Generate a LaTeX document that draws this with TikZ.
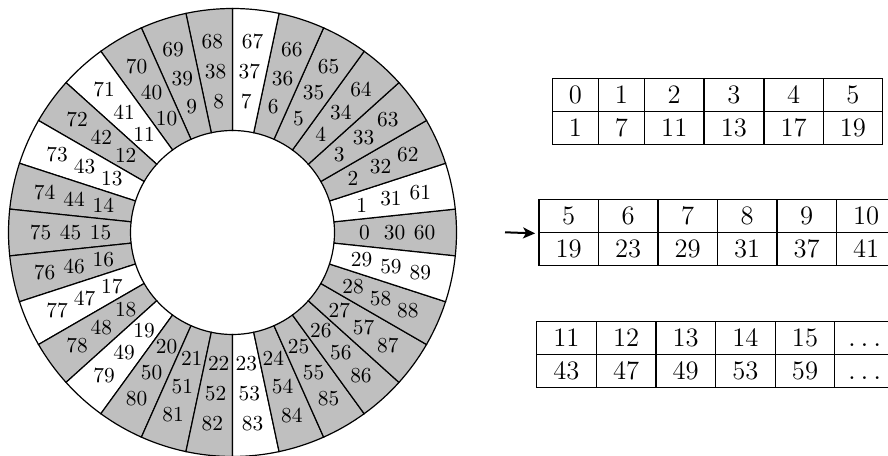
\documentclass[tikz,border=0pt]{standalone}
\usetikzlibrary{arrows.meta}
\begin{document}
\begin{tikzpicture}[x=0.5pt,y=0.5pt, line width=0.6pt,
  wnum/.style={font=\fontsize{10.7}{12}\selectfont, inner sep=0pt},
  cell/.style={draw, line width=0.6pt, inner sep=0pt, anchor=north west,
    minimum height=16.5pt, text height=8.6pt, text depth=0pt,
    font=\fontsize{13.3}{15}\selectfont},
  sector/.style={draw, line width=0.6pt, line join=miter}]
\useasboundingbox (0,0) rectangle (888,455);
\clip (0,0) rectangle (888,455);
\coordinate (C) at (232.5,222.5);
% wheel
\foreach \k/\c in {0/lightgray,1/white,2/lightgray,3/lightgray,4/lightgray,5/lightgray,
  6/lightgray,7/white,8/lightgray,9/lightgray,10/lightgray,11/white,12/lightgray,
  13/white,14/lightgray,15/lightgray,16/lightgray,17/white,18/lightgray,19/white,
  20/lightgray,21/lightgray,22/lightgray,23/white,24/lightgray,25/lightgray,
  26/lightgray,27/lightgray,28/lightgray,29/white} {
  \pgfmathsetmacro\a{\k*12-6}
  \pgfmathsetmacro\b{\k*12+6}
  \pgfmathsetmacro\m{\k*12}
  \pgfmathtruncatemacro\kk{\k+30}
  \pgfmathtruncatemacro\kkk{\k+60}
  \path[sector, fill=\c] ([shift={(\a:102)}]C) -- ([shift={(\a:224)}]C)
    arc[start angle=\a, end angle=\b, radius=224] -- ([shift={(\b:102)}]C)
    arc[start angle=\b, end angle=\a, radius=102] -- cycle;
  \node[wnum] (w\k) at ([shift={(\m:132)}]C) {\k};
  \node[wnum] (w\kk) at ([shift={(\m:162)}]C) {\kk};
  \node[wnum] (w\kkk) at ([shift={(\m:192)}]C) {\kkk};
}
% table 1
\foreach \i/\x/\w/\t/\u in {1/551.7/23/0/1, 2/597.7/23.15/1/7, 3/644/29.65/2/11,
  4/703.3/30/3/13, 5/763.3/29.7/4/17, 6/822.7/29.5/5/19} {
  \node[cell, minimum width=\w pt] (ta\i) at (\x,376.7) {\t};
  \node[cell, minimum width=\w pt] (tb\i) at (\x,343.7) {\u};
}
% table 2
\foreach \i/\t/\u in {1/5/19, 2/6/23, 3/7/29, 4/8/31, 5/9/37, 6/10/41} {
  \pgfmathsetmacro\x{538.3+(\i-1)*59.5}
  \node[cell, minimum width=29.75pt] (sa\i) at (\x,255.7) {\t};
  \node[cell, minimum width=29.75pt] (sb\i) at (\x,222.7) {\u};
}
% table 3
\foreach \i/\t/\u in {1/11/43, 2/12/47, 3/13/49, 4/14/53, 5/15/59, 6/$\ldots$/$\ldots$} {
  \pgfmathsetmacro\x{536+(\i-1)*59.65}
  \node[cell, minimum width=29.8pt] (ua\i) at (\x,134.3) {\t};
  \node[cell, minimum width=29.8pt] (ub\i) at (\x,101.3) {\u};
}
% arrow
\coordinate (as) at (505,222.7);
\draw[-{Stealth[length=6pt,width=5.5pt,inset=1.5pt]}, line width=1pt, shorten >=1.6pt]
  (as) -- (sa1.south west);
\end{tikzpicture}
\end{document}
